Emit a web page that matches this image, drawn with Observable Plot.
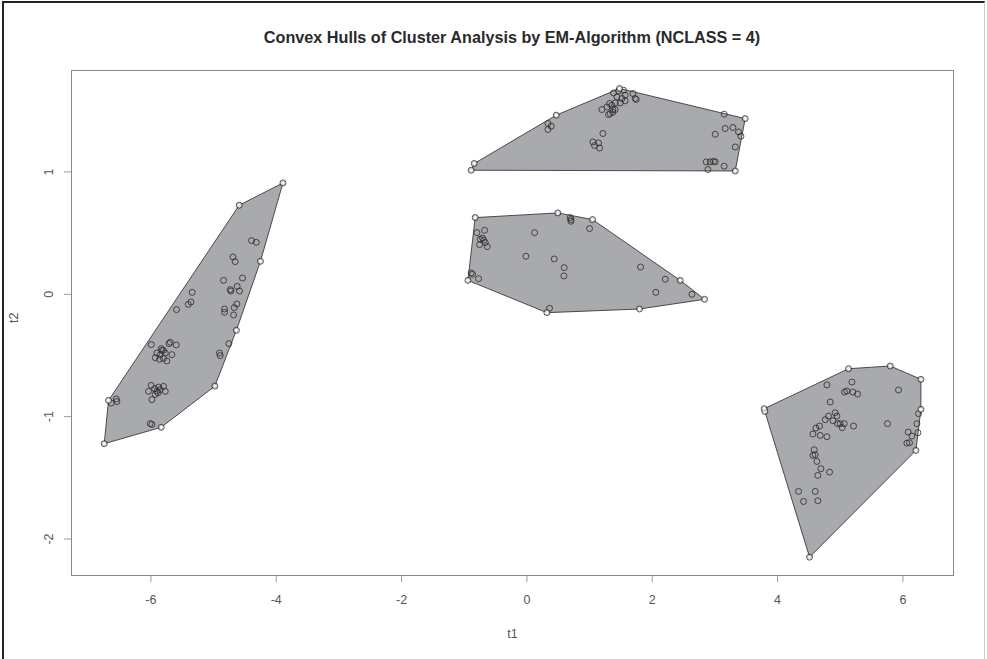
<!DOCTYPE html>
<html>
<head>
<meta charset="utf-8">
<script src="https://cdn.jsdelivr.net/npm/d3@7"></script>
<script src="https://cdn.jsdelivr.net/npm/@observablehq/plot@0.6"></script>
<style>
  html, body { margin: 0; padding: 0; background: #fff; }
  #wrap { position: relative; width: 987px; height: 659px; overflow: hidden; font-family: "Liberation Sans", Arial, sans-serif; }
  #frame { position: absolute; left: 2px; top: 1px; width: 980px; height: 670px; border-left: 2px solid #222; border-top: 2px solid #222; border-right: 1px solid #ccc; pointer-events: none; }
  #title { position: absolute; left: 71px; width: 882px; top: 28px; text-align: center; font-weight: bold; font-size: 16.2px; color: #2a2a2a; }
  #chart { position: absolute; left: 0; top: 0; }
</style>
</head>
<body>
<div id="wrap">
  <div id="chart"></div>
  <div id="title">Convex Hulls of Cluster Analysis by EM-Algorithm (NCLASS = 4)</div>
  <div id="frame"></div>
</div>
<script>
// Cluster 1 (left)
const c1t1 = [-3.893,-4.591,-4.252,-4.636,-4.979,-5.835,-6.745,-6.676,
  -4.394,-4.319,-4.691,-4.655,-4.841,-4.538,-4.734,-4.723,-4.623,-4.586,-5.341,-5.361,-5.404,-5.591,
  -4.825,-4.825,-4.628,-4.670,-4.681,-4.755,-4.905,-4.894,
  -5.995,-5.712,-5.692,-5.596,-5.835,-5.799,-5.904,-5.851,-5.771,-5.665,-5.931,-5.862,-5.799,-5.744,-5.824,
  -5.995,-5.942,-5.878,-5.799,-6.038,-5.904,-5.851,-5.771,-5.931,-5.888,-5.984,
  -6.633,-6.553,-6.543,-6.011,-5.984];
const c1t2 = [0.910,0.728,0.270,-0.294,-0.750,-1.087,-1.221,-0.867,
  0.439,0.425,0.305,0.267,0.114,0.133,0.038,0.027,0.065,0.027,0.016,-0.063,-0.082,-0.125,
  -0.120,-0.147,-0.079,-0.109,-0.169,-0.403,-0.480,-0.501,
  -0.411,-0.403,-0.392,-0.414,-0.444,-0.458,-0.480,-0.493,-0.480,-0.493,-0.518,-0.531,-0.523,-0.545,-0.458,
  -0.744,-0.771,-0.758,-0.752,-0.793,-0.791,-0.779,-0.793,-0.818,-0.804,-0.861,
  -0.889,-0.856,-0.877,-1.057,-1.063];

// Cluster 2 (top)
const c2t1 = [-0.889,-0.841,0.468,1.478,1.691,3.148,3.483,3.324,
  0.335,0.388,0.335,1.213,1.053,1.143,1.079,1.159,
  1.382,1.462,1.541,1.568,1.436,1.516,1.568,1.489,1.409,1.318,1.277,1.356,1.372,1.409,1.329,1.302,1.372,1.197,1.728,1.744,
  3.005,3.164,3.287,3.377,3.415,3.324,2.861,2.925,2.978,3.005,2.888,3.148];
const c2t2 = [1.014,1.069,1.464,1.682,1.641,1.472,1.436,1.008,
  1.396,1.374,1.347,1.314,1.245,1.237,1.216,1.196,
  1.646,1.662,1.668,1.627,1.613,1.600,1.581,1.564,1.564,1.559,1.531,1.545,1.510,1.510,1.477,1.469,1.488,1.510,1.600,1.592,
  1.308,1.355,1.363,1.327,1.292,1.204,1.082,1.082,1.087,1.082,1.020,1.047];

// Cluster 3 (middle)
const c3t1 = [-0.825,0.494,1.047,2.446,2.834,1.797,0.319,-0.942,
  0.691,0.702,0.702,0.999,-0.676,-0.798,0.122,-0.708,-0.745,-0.665,-0.756,-0.633,-0.692,
  -0.016,0.436,0.595,0.590,1.813,2.207,2.058,2.633,-0.889,-0.868,-0.772,0.361];
const c3t2 = [0.627,0.665,0.611,0.114,-0.041,-0.120,-0.150,0.114,
  0.627,0.611,0.597,0.537,0.523,0.504,0.504,0.460,0.450,0.423,0.406,0.390,0.442,
  0.311,0.289,0.218,0.150,0.223,0.123,0.016,0.000,0.174,0.164,0.128,-0.114];

// Cluster 4 (right bottom)
const c4t1 = [3.786,5.132,5.797,6.287,6.287,6.207,4.510,
  3.797,4.787,5.186,5.068,5.105,5.202,5.276,5.930,4.840,
  4.919,4.947,4.813,4.760,4.883,4.957,4.999,5.063,5.031,5.212,4.669,4.611,4.563,4.680,4.787,
  5.754,6.249,6.223,6.239,6.084,6.143,6.063,6.105,
  4.584,4.563,4.600,4.627,4.691,4.829,4.643,4.334,4.600,4.414,4.643];
const c4t2 = [-0.935,-0.608,-0.586,-0.695,-0.940,-1.276,-2.148,
  -0.957,-0.741,-0.717,-0.799,-0.790,-0.799,-0.815,-0.782,-0.880,
  -0.968,-0.995,-0.995,-1.025,-1.033,-1.057,-1.057,-1.057,-1.090,-1.077,-1.077,-1.093,-1.142,-1.153,-1.164,
  -1.057,-0.975,-1.057,-1.131,-1.126,-1.158,-1.216,-1.213,
  -1.270,-1.316,-1.311,-1.366,-1.425,-1.453,-1.480,-1.611,-1.611,-1.693,-1.687];

const xTicks = [-6, -4, -2, 0, 2, 4, 6];
const yTicks = [-2, -1, 0, 1];
const xLabel = "t1";
const yLabel = "t2";

const clusters = [[c1t1, c1t2], [c2t1, c2t2], [c3t1, c3t2], [c4t1, c4t2]];
const data = clusters.flatMap(([xs, ys], k) => xs.map((v, i) => ({t1: v, t2: ys[i], cluster: k + 1})));
const vertices = clusters.flatMap(([xs, ys]) => d3.polygonHull(xs.map((v, i) => [v, ys[i]])).map(([a, b]) => ({t1: a, t2: b})));

const font = "'Liberation Sans', Arial, sans-serif";
const chart = Plot.plot({
  width: 987,
  height: 659,
  marginLeft: 71,
  marginRight: 34,
  marginTop: 70,
  marginBottom: 84,
  style: {fontFamily: font, background: "transparent", overflow: "visible"},
  x: {domain: [-7.267, 6.807]},
  y: {domain: [-2.298, 1.829]},
  marks: [
    Plot.hull(data, {x: "t1", y: "t2", z: "cluster", fill: "#a9aaad", stroke: "#3a3a3a", strokeWidth: 0.9}),
    Plot.dot(data, {x: "t1", y: "t2", r: 3, stroke: "#2a2a2a", strokeWidth: 0.8, fill: "none"}),
    Plot.dot(vertices, {x: "t1", y: "t2", r: 2.2, stroke: "#888", strokeWidth: 0.6, fill: "#f4f4f4"}),
    Plot.frame({stroke: "#888", strokeWidth: 1}),
    Plot.axisX(xTicks, {tickSize: 7, tickPadding: 13, tickFormat: d => String(d), stroke: "#999", fill: "#555", fontSize: 12.5, label: null}),
    Plot.axisY(yTicks, {tickSize: 7, tickFormat: () => "", stroke: "#999", label: null}),
    Plot.text(yTicks, {y: d => d, text: d => String(d), frameAnchor: "left", dx: -23, rotate: -90, fill: "#555", fontSize: 12.5, textAnchor: "middle", lineAnchor: "middle"}),
    Plot.text([xLabel], {text: d => d, frameAnchor: "bottom", dy: 58, fill: "#555", fontSize: 12.5, lineAnchor: "middle"}),
    Plot.text([yLabel], {text: d => d, frameAnchor: "left", dx: -58, rotate: -90, fill: "#555", fontSize: 12.5, lineAnchor: "middle"})
  ]
});
document.getElementById("chart").appendChild(chart);
</script>
</body>
</html>
